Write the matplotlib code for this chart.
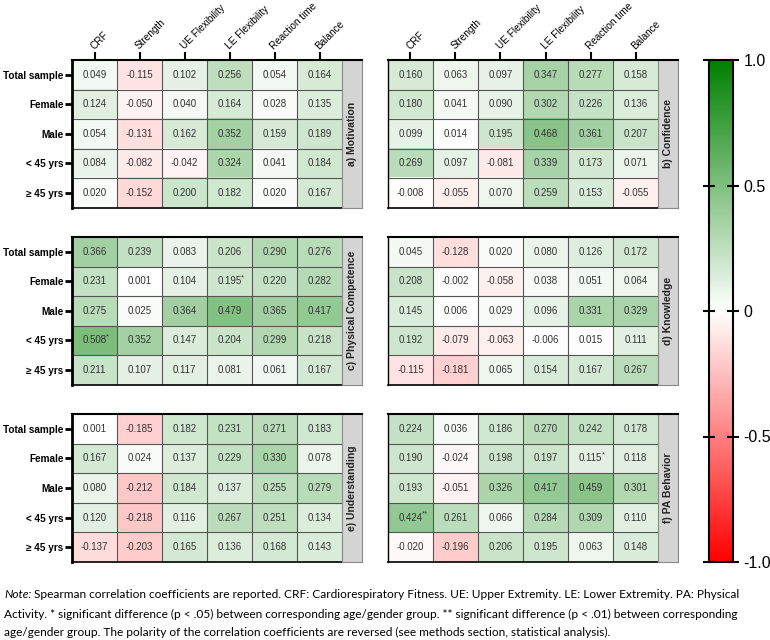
import numpy as np
import matplotlib
matplotlib.use('Agg')
import matplotlib.pyplot as plt
from matplotlib.colors import LinearSegmentedColormap

plt.rcParams['font.family'] = ['Liberation Sans', 'DejaVu Sans']

# data
cols = ['CRF', 'Strength', 'UE Flexibility', 'LE Flexibility', 'Reaction time', 'Balance']
rows = ['Total sample', 'Female', 'Male', '< 45 yrs', '\u2265 45 yrs']

motivation = [[0.049, -0.115, 0.102, 0.256, 0.054, 0.164],
              [0.124, -0.050, 0.040, 0.164, 0.028, 0.135],
              [0.054, -0.131, 0.162, 0.352, 0.159, 0.189],
              [0.084, -0.082, -0.042, 0.324, 0.041, 0.184],
              [0.020, -0.152, 0.200, 0.182, 0.020, 0.167]]
confidence = [[0.160, 0.063, 0.097, 0.347, 0.277, 0.158],
              [0.180, 0.041, 0.090, 0.302, 0.226, 0.136],
              [0.099, 0.014, 0.195, 0.468, 0.361, 0.207],
              [0.269, 0.097, -0.081, 0.339, 0.173, 0.071],
              [-0.008, -0.055, 0.070, 0.259, 0.153, -0.055]]
competence = [[0.366, 0.239, 0.083, 0.206, 0.290, 0.276],
              [0.231, 0.001, 0.104, 0.195, 0.220, 0.282],
              [0.275, 0.025, 0.364, 0.479, 0.365, 0.417],
              [0.508, 0.352, 0.147, 0.204, 0.299, 0.218],
              [0.211, 0.107, 0.117, 0.081, 0.061, 0.167]]
knowledge = [[0.045, -0.128, 0.020, 0.080, 0.126, 0.172],
             [0.208, -0.002, -0.058, 0.038, 0.051, 0.064],
             [0.145, 0.006, 0.029, 0.096, 0.331, 0.329],
             [0.192, -0.079, -0.063, -0.006, 0.015, 0.111],
             [-0.115, -0.181, 0.065, 0.154, 0.167, 0.267]]
understanding = [[0.001, -0.185, 0.182, 0.231, 0.271, 0.183],
                 [0.167, 0.024, 0.137, 0.229, 0.330, 0.078],
                 [0.080, -0.212, 0.184, 0.137, 0.255, 0.279],
                 [0.120, -0.218, 0.116, 0.267, 0.251, 0.134],
                 [-0.137, -0.203, 0.165, 0.136, 0.168, 0.143]]
behavior = [[0.224, 0.036, 0.186, 0.270, 0.242, 0.178],
            [0.190, -0.024, 0.198, 0.197, 0.115, 0.118],
            [0.193, -0.051, 0.326, 0.417, 0.459, 0.301],
            [0.424, 0.261, 0.066, 0.284, 0.309, 0.110],
            [-0.020, -0.196, 0.206, 0.195, 0.063, 0.148]]

panel_titles = ['a) Motivation', 'b) Confidence', 'c) Physical Competence',
                'd) Knowledge', 'e) Understanding', 'f) PA Behavior']
panel_data = [motivation, confidence, competence, knowledge, understanding, behavior]
# (panel index, row, col, marker)
stars = [(2, 1, 3, '*'), (2, 3, 0, '*'), (5, 1, 4, '*'), (5, 3, 0, '**')]

W, H = 770, 640
fig = plt.figure(figsize=(7.7, 6.4), dpi=100)

def rect(x0, y0, x1, y1):
    return [x0 / W, 1 - y1 / H, (x1 - x0) / W, (y1 - y0) / H]

cmap = LinearSegmentedColormap.from_list('rwg', ['#ff0000', '#ffffff', '#008000'])

xpos = [(72, 342), (388, 658)]
ypos = [(60, 207.5), (237, 384.5), (414, 562)]

for p, (title, vals) in enumerate(zip(panel_titles, panel_data)):
    c, r = p % 2, p // 2
    x0, x1 = xpos[c]
    y0, y1 = ypos[r]
    ax = fig.add_axes(rect(x0, y0, x1, y1))
    im = ax.imshow(np.array(vals), cmap=cmap, vmin=-1, vmax=1, aspect='auto',
                   interpolation='nearest')
    for i in range(1, 6):
        ax.axvline(i - 0.5, color='#555555', lw=0.8)
    for j in range(1, 5):
        ax.axhline(j - 0.5, color='#555555', lw=0.8)
    for i in range(5):
        for j in range(6):
            ax.text(j, i, '%.3f' % vals[i][j], ha='center', va='center',
                    fontsize=7, color='#333333')
    for (pp, i, j, m) in stars:
        if pp == p:
            ax.annotate(m, (j, i), xytext=(8.5, 2.5), textcoords='offset points',
                        ha='left', va='center', fontsize=5.5, color='#333333')
    ax.set_xlim(-0.5, 5.5)
    ax.set_ylim(4.5, -0.5)
    ax.spines['right'].set_visible(False)
    ax.spines['top'].set_linewidth(1.5)
    ax.spines['bottom'].set_linewidth(1.2)
    if c == 0:
        ax.spines['left'].set_linewidth(2)
        ax.set_yticks(range(5))
        ax.set_yticklabels(rows, fontsize=7.2, fontweight='bold')
        ax.tick_params(axis='y', length=5, width=2, pad=1)
    else:
        ax.spines['left'].set_linewidth(1)
        ax.set_yticks([])
    if r == 0:
        ax.xaxis.tick_top()
        ax.set_xticks(range(6))
        ax.set_xticklabels(cols, rotation=45, ha='left', va='baseline',
                           rotation_mode='anchor', fontsize=7.2)
        ax.tick_params(axis='x', length=6, width=1.5, pad=1.5)
    else:
        ax.set_xticks([])

    sax = fig.add_axes(rect(x1, y0, x1 + 20, y1))
    sax.set_facecolor('#d4d4d4')
    sax.set_xticks([])
    sax.set_yticks([])
    for s in sax.spines.values():
        s.set_color('#8a8a8a')
    sax.spines['top'].set_color('black')
    sax.spines['top'].set_linewidth(1.5)
    sax.text(0.5, 0.5, title, rotation=90, ha='center', va='center',
             fontsize=7.5, fontweight='bold', color='#222222', transform=sax.transAxes)

cax = fig.add_axes(rect(709, 60, 733, 562))
cb = fig.colorbar(im, cax=cax, ticks=[-1, -0.5, 0, 0.5, 1])
cb.ax.set_yticklabels(['-1.0', '-0.5', '0', '0.5', '1.0'], fontsize=11.5)
cb.outline.set_linewidth(1.5)
cb.ax.tick_params(length=8, width=1.5, direction='inout', left=True, right=True)

# footnote
fn = ['Lato', 'DejaVu Sans']
fs = 8.6
t = fig.text(4 / W, 1 - 595 / H, 'Note:', fontsize=fs, style='italic', family=fn, va='center')
fig.canvas.draw()
bb = t.get_window_extent()
fig.text(bb.x1 / W + 0.004, 1 - 595 / H,
         'Spearman correlation coefficients are reported. CRF: Cardiorespiratory Fitness. '
         'UE: Upper Extremity. LE: Lower Extremity. PA: Physical',
         fontsize=fs, family=fn, va='center')
fig.text(4 / W, 1 - 614 / H,
         'Activity. * significant difference (p < .05) between corresponding age/gender group. '
         '** significant difference (p < .01) between corresponding',
         fontsize=fs, family=fn, va='center')
fig.text(4 / W, 1 - 632 / H,
         'age/gender group. The polarity of the correlation coefficients are reversed '
         '(see methods section, statistical analysis).',
         fontsize=fs, family=fn, va='center')

fig.savefig('out.png', dpi=100)
